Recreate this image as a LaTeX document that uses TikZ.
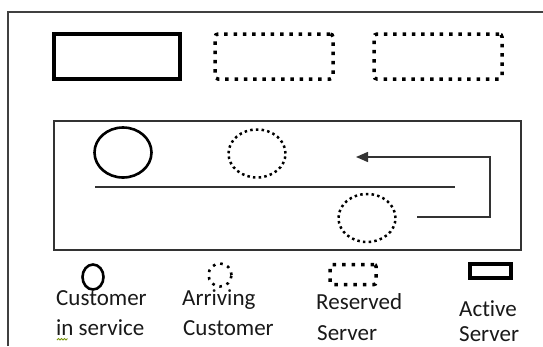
\documentclass[tikz,border=0pt]{standalone}
\usepackage{fontspec}
\setmainfont{Carlito}[Ligatures=NoCommon]
\usetikzlibrary{shapes.geometric,arrows.meta}
\tikzset{
  frame/.style={draw=black!75, line width=1.4pt},
  activebox/.style={draw=black, line width=4pt, rectangle, inner sep=0pt},
  reservedbox/.style={draw=black, line width=3.5pt, dash pattern=on 3.5pt off 5.8pt, rounded corners=3pt, rectangle, inner sep=0pt},
  custin/.style={draw=black, line width=2.6pt, ellipse, inner sep=0pt},
  custarr/.style={draw=black, line width=2.5pt, dash pattern=on 2.5pt off 3.2pt, ellipse, inner sep=0pt},
  conn/.style={draw=black!80, line width=1.5pt},
  lbl/.style={anchor=base west, inner sep=0pt, font=\fontsize{23}{27}\selectfont, text=black!90}
}
\begin{document}
\begin{tikzpicture}[x=1pt,y=-1pt]
\useasboundingbox (0,0) rectangle (543,346);
\fill[white] (0,0) rectangle (543,346);
% outer frame (cut off at right and bottom)
\coordinate (fb) at (8,346);
\coordinate (ft) at (8,12);
\coordinate (fr) at (543,12);
\draw[frame] (fb) -- (ft) -- (fr);
% servers
\node[activebox, minimum width=126pt, minimum height=45pt] (s1) at (117,56.5) {};
\node[reservedbox, minimum width=118pt, minimum height=45pt] (s2) at (274,56.5) {};
\node[reservedbox, minimum width=128pt, minimum height=45pt] (s3) at (438,56.5) {};
% queue box
\node[draw=black!80, line width=1.4pt, rectangle, inner sep=0pt, minimum width=467pt, minimum height=129pt] (q) at (287.5,185.5) {};
\node[custin, minimum width=57pt, minimum height=50pt] (c1) at (123,152.5) {};
\node[custarr, minimum width=57pt, minimum height=48pt] (c2) at (257,153.5) {};
\node[custarr, minimum width=57pt, minimum height=48pt] (c3) at (367,218) {};
\coordinate (l1) at (95,187);
\coordinate (l2) at (455,187);
\draw[draw=black!80, line width=1.3pt] (l1) -- (l2);
\coordinate (a0) at (417,217);
\coordinate (a1) at (490,217);
\coordinate (a2) at (490,157);
\coordinate (a3) at (356,157);
\draw[conn, -{Triangle[length=12pt,width=10pt]}] (a0) -- (a1) -- (a2) -- (a3);
% legend
\node[custin, line width=2.6pt, minimum width=21pt, minimum height=25pt] (k1) at (93,277) {};
\node[custarr, line width=2.6pt, dash pattern=on 2.6pt off 5pt, minimum width=23pt, minimum height=23pt] (k2) at (220,275) {};
\node[reservedbox, dash pattern=on 3.5pt off 6pt, rounded corners=2pt, minimum width=46pt, minimum height=20pt] (k3) at (353,274.5) {};
\node[activebox, line width=4pt, minimum width=41pt, minimum height=14pt] (k4) at (490,271) {};
\node[lbl] (t1a) at (56,305) {Customer};
\node[lbl] (t1b) at (56,335) {in service};
\node[lbl] (t2a) at (182,305) {Arriving};
\node[lbl] (t2b) at (183,335) {Customer};
\node[lbl] (t3a) at (316,309) {Reserved};
\node[lbl] (t3b) at (317,340) {Server};
\node[lbl] (t4a) at (459,316) {Active};
\node[lbl] (t4b) at (459,341) {Server};
% spell-check squiggle under "in"
\draw[draw=olive!70!green, line width=0.8pt]
  (57,340) -- (58.5,338.5) -- (60,340) -- (61.5,338.5) -- (63,340) -- (64.5,338.5) -- (66,340) -- (67.5,338.5);
\end{tikzpicture}
\end{document}
